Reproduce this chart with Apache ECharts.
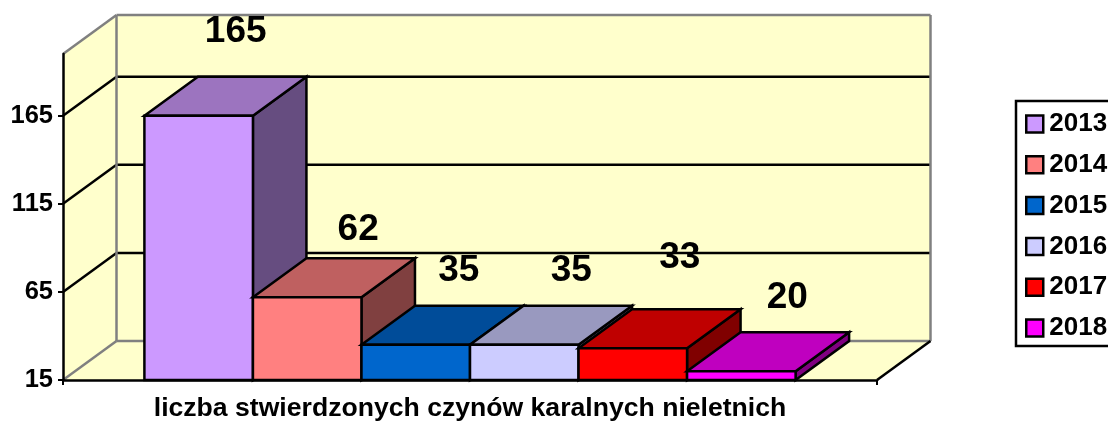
<!DOCTYPE html>
<html><head><meta charset="utf-8">
<style>html,body{margin:0;padding:0;background:#fff;overflow:hidden}#c{width:1108px;height:421px}</style>
<script src="https://cdn.jsdelivr.net/npm/echarts@6/dist/echarts.min.js"></script>
</head><body><div id="c"></div>
<script>
const category = ['liczba stwierdzonych czynów karalnych nieletnich'];
const years = ['2013','2014','2015','2016','2017','2018'];
const values = [165,62,35,35,33,20];
const yTicks = [15,65,115,165];
const yMin = 15, yMax = 200;

const frontColors = ['#CC99FF','#FF8080','#0066CC','#CCCCFF','#FF0000','#FF00FF'];
const topColors   = ['#9C74BF','#BF6060','#004C99','#9999BF','#BF0000','#BF00BF'];
const sideColors  = ['#664D80','#804040','#003366','#666680','#800000','#800080'];
// hand placement of the value labels, relative to the top-front centre of each bar
const labelDx = [37,51,43,47,47,46];
const labelDy = [-84,-67,-74,-74,-90,-73];

const DX = 53.5, DY = -39;
const FONT = '"Liberation Sans", Arial, sans-serif';
const GRAY = '#808080';

function poly(points, fill, stroke, z2){
  return {type:'polygon', z2, shape:{points}, style:{fill, stroke, lineWidth:2.5, lineJoin:'miter'}};
}
function seg(a,b,stroke,z2,lw){
  return {type:'line', z2, shape:{x1:a[0],y1:a[1],x2:b[0],y2:b[1]}, style:{stroke, lineWidth:lw||2.5, fill:null}};
}
function renderWalls(params, api){
  const cs = params.coordSys;
  const l = cs.x, r = cs.x + cs.width;
  const yb = api.coord([0,yMin])[1], yt = api.coord([0,yMax])[1];
  const kids = [
    poly([[l,yb],[l+DX,yb+DY],[l+DX,yt+DY],[l,yt]], '#FFFFCC', null, 1),
    poly([[l+DX,yt+DY],[r+DX,yt+DY],[r+DX,yb+DY],[l+DX,yb+DY]], '#FFFFCC', null, 1),
    poly([[l,yb],[r,yb],[r+DX,yb+DY],[l+DX,yb+DY]], '#FFFFCC', null, 1)
  ];
  yTicks.slice(1).forEach(v=>{
    const y = api.coord([0,v])[1];
    kids.push(seg([l,y],[l+DX,y+DY],'#000',2));
    kids.push(seg([l+DX,y+DY],[r+DX,y+DY],'#000',2));
  });
  kids.push(seg([l,yt],[l+DX,yt+DY],GRAY,3));
  kids.push(seg([l+DX,yt+DY],[r+DX,yt+DY],GRAY,3));
  kids.push(seg([r+DX,yt+DY],[r+DX,yb+DY],GRAY,3));
  kids.push(seg([l+DX,yt+DY],[l+DX,yb+DY],GRAY,3));
  kids.push(seg([l+DX,yb+DY],[r+DX,yb+DY],GRAY,3));
  kids.push(seg([l,yb],[l+DX,yb+DY],GRAY,3));
  kids.push(seg([r,yb],[r+DX,yb+DY],'#000',3));
  return {type:'group', children:kids};
}
function makeBar(i){
  return function(params, api){
    const w = api.size([1,0])[0]*0.8/years.length;
    const c = api.coord([0,api.value(1)]);
    const x0 = c[0] + (i-years.length/2)*w, x1 = x0+w;
    const yTop = c[1], yBot = api.coord([0,yMin])[1];
    const z = 10+i;
    return {type:'group', children:[
      poly([[x1,yTop],[x1+DX,yTop+DY],[x1+DX,yBot+DY],[x1,yBot]], sideColors[i], '#000', z),
      poly([[x0,yTop],[x1,yTop],[x1+DX,yTop+DY],[x0+DX,yTop+DY]], topColors[i], '#000', z),
      poly([[x0,yTop],[x1,yTop],[x1,yBot],[x0,yBot]], frontColors[i], '#000', z),
      {type:'text', z2:100, x:(x0+x1)/2+labelDx[i], y:yTop+labelDy[i],
       style:{text:String(values[i]), fill:'#000', font:'bold 37px '+FONT, align:'center', verticalAlign:'middle'}}
    ]};
  };
}
const series = [{type:'custom', z:0, silent:true, data:[[0,yMax]], renderItem:renderWalls}];
years.forEach((y,i)=>series.push({
  type:'custom', name:y, z:3, silent:true, itemStyle:{color:frontColors[i]},
  data:[[0,values[i]]], renderItem:makeBar(i)
}));

const chart = echarts.init(document.getElementById('c'), null, {renderer:'canvas'});
chart.setOption({
  animation:false, backgroundColor:'#fff',
  grid:{left:63, top:54, width:814, height:326, outerBoundsMode:'none'},
  xAxis:{type:'category', data:category, z:1,
    axisLine:{lineStyle:{color:'#000',width:2.5}},
    axisTick:{show:true, length:5, lineStyle:{color:'#000',width:2}},
    axisLabel:{color:'#000', fontFamily:FONT, fontWeight:'bold', fontSize:26.6, margin:15}},
  yAxis:{type:'value', min:yMin, max:yMax, z:1,
    axisLine:{show:true, lineStyle:{color:'#000',width:2.5}},
    axisTick:{show:true, length:5, lineStyle:{color:'#000',width:2}, customValues:yTicks},
    axisLabel:{color:'#000', fontFamily:FONT, fontWeight:'bold', fontSize:25.5, margin:10, customValues:yTicks},
    splitLine:{show:false}},
  legend:{orient:'vertical', left:1016, top:101, icon:'rect', itemWidth:17, itemHeight:17, itemGap:14.8,
    padding:[10,14,5,9], backgroundColor:'#fff', borderColor:'#000', borderWidth:2.5,
    selectedMode:false,
    textStyle:{color:'#000', fontFamily:FONT, fontWeight:'bold', fontSize:26, padding:[0,0,0,1]},
    data:years.map((y,i)=>({name:y, itemStyle:{color:frontColors[i], borderColor:'#000', borderWidth:2.5}}))},
  series
});
</script></body></html>
